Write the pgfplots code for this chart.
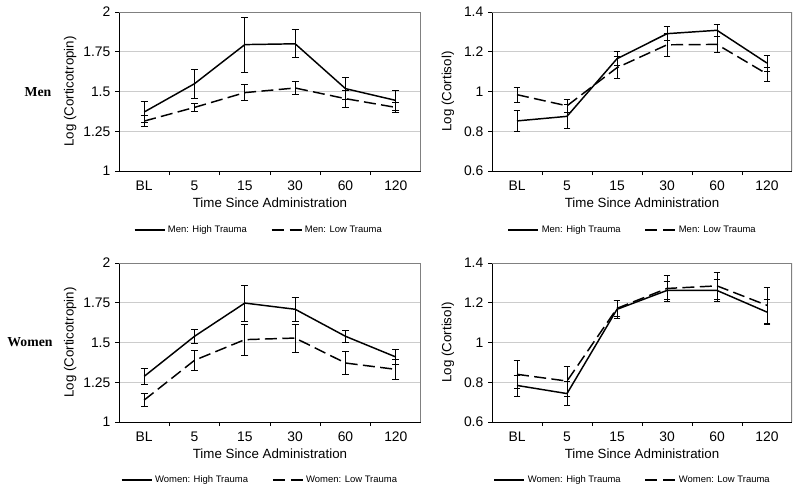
\documentclass[border=0pt]{standalone}
\usepackage{fontspec}
\setmainfont{Liberation Sans}
\newfontfamily\serifb{Liberation Serif}
\usepackage{pgfplots}
\usepackage{pgfplotstable}
\pgfplotsset{compat=1.18}

\pgfplotstableread{
x y e
0 1.371 0.067
1 1.549 0.089
2 1.795 0.173
3 1.800 0.088
4 1.518 0.070
5 1.444 0.063
}\mcH
\pgfplotstableread{
x y e
0 1.314 0.035
1 1.400 0.024
2 1.493 0.050
3 1.522 0.040
4 1.455 0.055
5 1.400 0.032
}\mcL
\pgfplotstableread{
x y e
0 0.852 0.053
1 0.875 0.060
2 1.165 0.035
3 1.291 0.035
4 1.308 0.030
5 1.143 0.040
}\mkH
\pgfplotstableread{
x y e
0 0.984 0.037
1 0.928 0.035
2 1.120 0.055
3 1.235 0.058
4 1.237 0.042
5 1.088 0.035
}\mkL
\pgfplotstableread{
x y e
0 1.287 0.050
1 1.539 0.045
2 1.748 0.112
3 1.709 0.075
4 1.539 0.040
5 1.409 0.045
}\wcH
\pgfplotstableread{
x y e
0 1.138 0.040
1 1.388 0.065
2 1.518 0.097
3 1.528 0.088
4 1.371 0.073
5 1.331 0.063
}\wcL
\pgfplotstableread{
x y e
0 0.784 0.053
1 0.743 0.060
2 1.167 0.047
3 1.262 0.045
4 1.262 0.055
5 1.153 0.062
}\wkH
\pgfplotstableread{
x y e
0 0.840 0.072
1 0.806 0.076
2 1.172 0.040
3 1.272 0.064
4 1.285 0.070
5 1.187 0.090
}\wkL

\pgfplotsset{
  myax/.style={
    scale only axis,
    height=119.25pt,
    xmin=-0.5, xmax=5.5,
    axis x line*=bottom, axis y line*=left,
    axis line style={black, line width=0.6pt},
    xtick={0,...,5},
    xticklabels={BL,5,15,30,60,120},
    minor xtick={0.5,1.5,2.5,3.5,4.5},
    major x tick style={draw=none},
    minor tick length=3pt,
    major tick length=3pt,
    tick align=outside,
    tick style={black, line width=0.5pt},
    ymajorgrids,
    grid style={gray!40, line width=0.5pt},
    ticklabel style={font=\fontsize{10.4}{12}\selectfont},
    /pgf/number format/assume math mode=true,
    xticklabel style={yshift=-1pt},
    xlabel={Time Since Administration},
    xlabel style={font=\fontsize{10}{12}\selectfont, at={(axis description cs:0.5,-0.2)}, anchor=center},
    ylabel style={font=\fontsize{10}{12}\selectfont, anchor=center},
    legend columns=2,
    legend style={draw=none, fill=none, font=\fontsize{7.1}{8.5}\selectfont, anchor=center,
      /tikz/every even column/.append style={column sep=16pt}},
    legend cell align=left,
    legend image code/.code={\draw[##1] (0pt,0pt) -- (22.5pt,0pt);},
    hi/.style={black, solid, line width=1.1pt, no marks,
      error bars/.cd, y dir=both, y explicit,
      error bar style={solid, line width=0.5pt},
      error mark options={solid, line width=0.5pt, mark size=2.6pt, rotate=90}},
    lo/.style={black, dash pattern=on 9pt off 4pt, line width=1.1pt, no marks,
      legend image post style={dash pattern=on 9pt off 4.5pt},
      error bars/.cd, y dir=both, y explicit,
      error bar style={solid, line width=0.5pt},
      error mark options={solid, line width=0.5pt, mark size=2.6pt, rotate=90}},
  }
}

\begin{document}
\begin{tikzpicture}
\useasboundingbox (0,0) rectangle (600pt,370.5pt);

% Top left: Men corticotropin
\begin{axis}[myax, at={(89.25pt,242.25pt)}, anchor=south west, width=226.5pt,
  ymin=1, ymax=2, ytick={1,1.25,1.5,1.75,2},
  ylabel={Log (Corticotropin)},
  ylabel style={at={(axis description cs:-0.162,0.5)}},
  legend style={at={(axis description cs:0.464,-0.371)}}]
\addplot[hi] table[x=x,y=y,y error=e]{\mcH};
\addlegendentry{Men: High Trauma}
\addplot[lo] table[x=x,y=y,y error=e]{\mcL};
\addlegendentry{Men: Low Trauma}
\draw[gray, line width=1pt] (rel axis cs:0,1) -- (rel axis cs:1,1) -- (rel axis cs:1,0);
\end{axis}

% Top right: Men cortisol
\begin{axis}[myax, at={(369pt,242.25pt)}, anchor=south west, width=225pt,
  ymin=0.6, ymax=1.4, ytick={0.6,0.8,1,1.2,1.4},
  ylabel={Log (Cortisol)},
  ylabel style={at={(axis description cs:-0.147,0.5)}},
  legend style={at={(axis description cs:0.47,-0.371)}}]
\addplot[hi] table[x=x,y=y,y error=e]{\mkH};
\addlegendentry{Men: High Trauma}
\addplot[lo] table[x=x,y=y,y error=e]{\mkL};
\addlegendentry{Men: Low Trauma}
\draw[gray, line width=1pt] (rel axis cs:0,1) -- (rel axis cs:1,1) -- (rel axis cs:1,0);
\end{axis}

% Bottom left: Women corticotropin
\begin{axis}[myax, at={(89.25pt,54pt)}, anchor=south west, width=226.5pt,
  ymin=1, ymax=2, ytick={1,1.25,1.5,1.75,2},
  ylabel={Log (Corticotropin)},
  ylabel style={at={(axis description cs:-0.162,0.5)}},
  legend style={at={(axis description cs:0.468,-0.365)}}]
\addplot[hi] table[x=x,y=y,y error=e]{\wcH};
\addlegendentry{Women: High Trauma}
\addplot[lo] table[x=x,y=y,y error=e]{\wcL};
\addlegendentry{Women: Low Trauma}
\draw[gray, line width=1pt] (rel axis cs:0,1) -- (rel axis cs:1,1) -- (rel axis cs:1,0);
\end{axis}

% Bottom right: Women cortisol
\begin{axis}[myax, at={(369pt,54pt)}, anchor=south west, width=225pt,
  ymin=0.6, ymax=1.4, ytick={0.6,0.8,1,1.2,1.4},
  ylabel={Log (Cortisol)},
  ylabel style={at={(axis description cs:-0.147,0.5)}},
  legend style={at={(axis description cs:0.47,-0.365)}}]
\addplot[hi] table[x=x,y=y,y error=e]{\wkH};
\addlegendentry{Women: High Trauma}
\addplot[lo] table[x=x,y=y,y error=e]{\wkL};
\addlegendentry{Women: Low Trauma}
\draw[gray, line width=1pt] (rel axis cs:0,1) -- (rel axis cs:1,1) -- (rel axis cs:1,0);
\end{axis}

\node[font=\serifb\bfseries\fontsize{10.3}{12}\selectfont] at (28.5pt,301.5pt) {Men};
\node[font=\serifb\bfseries\fontsize{10.3}{12}\selectfont] at (22.5pt,114pt) {Women};
\end{tikzpicture}
\end{document}
